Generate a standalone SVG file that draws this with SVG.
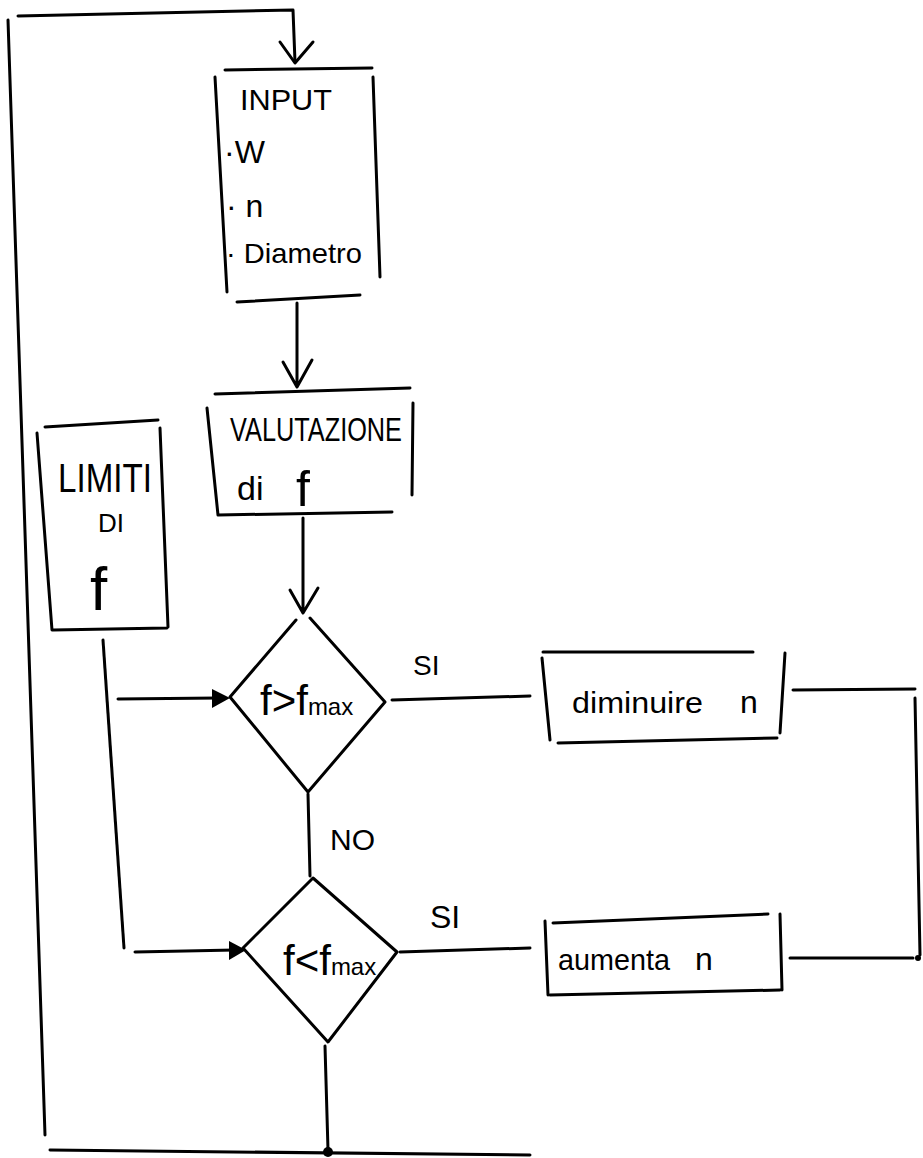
<svg xmlns="http://www.w3.org/2000/svg" width="923" height="1158" viewBox="0 0 923 1158">
<defs>
<style>
.ln{fill:none;stroke:#000;stroke-width:3;stroke-linecap:round;stroke-linejoin:round}
.tx{font-family:"Liberation Sans",Arial,sans-serif;fill:#000}
</style>
</defs>
<rect width="923" height="1158" fill="#fff"/>

<g id="connectors">
<!-- outer loop -->
<path class="ln" d="M45,1135 L8,20 M18,16 L293,10 L295,62"/>
<path class="ln" d="M280,42 L295,63 L313,42"/>
<path class="ln" d="M50,1150 L530,1155"/>
<circle cx="328" cy="1152" r="5" fill="#000"/>
<!-- input to valutazione -->
<path class="ln" d="M297,303 L297,386 M283,362 L297,387 L312,360"/>
<!-- valutazione to diamond1 -->
<path class="ln" d="M303,518 L303,612 M290,590 L303,613 L318,588"/>
<!-- limiti connectors -->
<path class="ln" d="M103,640 L124,948"/>
<path class="ln" d="M118,699 L218,698"/>
<path d="M212,689 L230,698 L212,708 z" fill="#000"/>
<path class="ln" d="M135,952 L235,950"/>
<path d="M229,941 L246,950 L229,960 z" fill="#000"/>
<!-- diamond1 SI -->
<path class="ln" d="M392,700 L530,696"/>
<!-- diamond1 NO -->
<path class="ln" d="M308,794 L310,876"/>
<!-- diminuire right -->
<path class="ln" d="M793,690 L915,689 M915,698 L920,955"/>
<!-- diamond2 SI -->
<path class="ln" d="M400,952 L530,948"/>
<!-- aumenta right -->
<path class="ln" d="M790,958 L913,958"/>
<circle cx="918" cy="958" r="3" fill="#000"/>
<!-- diamond2 bottom -->
<path class="ln" d="M325,1046 L328,1150"/>
</g>

<g id="input">
<path class="ln" d="M225,70 L372,68 M215,77 L227,292 M373,77 L380,277 M237,302 L360,295"/>
<text class="tx" x="240" y="110" font-size="30" textLength="92" lengthAdjust="spacingAndGlyphs">INPUT</text>
<text class="tx" x="224" y="163" font-size="32">·W</text>
<text class="tx" x="226" y="217" font-size="32">· n</text>
<text class="tx" x="226" y="263" font-size="28" textLength="136" lengthAdjust="spacingAndGlyphs">· Diametro</text>
</g>

<g id="valutazione">
<path class="ln" d="M215,394 L410,388 M207,408 L218,515 M413,403 L412,495 M218,515 L392,512"/>
<text class="tx" x="230" y="441" font-size="34" textLength="172" lengthAdjust="spacingAndGlyphs">VALUTAZIONE</text>
<text class="tx" x="237" y="500" font-size="34">di</text>
<text class="tx" x="296" y="506" font-size="50">f</text>
</g>

<g id="limiti">
<path class="ln" d="M45,427 L158,420 M37,433 L52,630 M160,428 L168,627 M53,630 L167,628"/>
<text class="tx" x="58" y="492" font-size="40" textLength="94" lengthAdjust="spacingAndGlyphs">LIMITI</text>
<text class="tx" x="98" y="532" font-size="26">DI</text>
<text class="tx" x="90" y="610" font-size="62">f</text>
</g>

<g id="decision1">
<path class="ln" d="M296,620 L230,697 L308,792 L385,702 L310,618"/>
<text class="tx" x="260" y="715" font-size="42">f&gt;f<tspan font-size="24">max</tspan></text>
<text class="tx" x="413" y="675" font-size="28">SI</text>
<text class="tx" x="330" y="850" font-size="30">NO</text>
</g>

<g id="diminuire">
<path class="ln" d="M543,652 L753,652 M542,658 L550,740 M785,653 L780,733 M558,743 L777,738"/>
<text class="tx" x="572" y="713" font-size="30" textLength="131" lengthAdjust="spacingAndGlyphs">diminuire</text>
<text class="tx" x="740" y="713" font-size="32">n</text>
</g>

<g id="decision2">
<path class="ln" d="M313,878 L243,948 L328,1042 L397,952 Z"/>
<text class="tx" x="283" y="975" font-size="42">f&lt;f<tspan font-size="24">max</tspan></text>
<text class="tx" x="430" y="928" font-size="32">SI</text>
</g>

<g id="aumenta">
<path class="ln" d="M553,923 L768,914 M545,921 L548,995 M780,914 L782,990 M550,995 L780,990"/>
<text class="tx" x="558" y="970" font-size="30" textLength="112" lengthAdjust="spacingAndGlyphs">aumenta</text>
<text class="tx" x="695" y="970" font-size="32">n</text>
</g>
</svg>
